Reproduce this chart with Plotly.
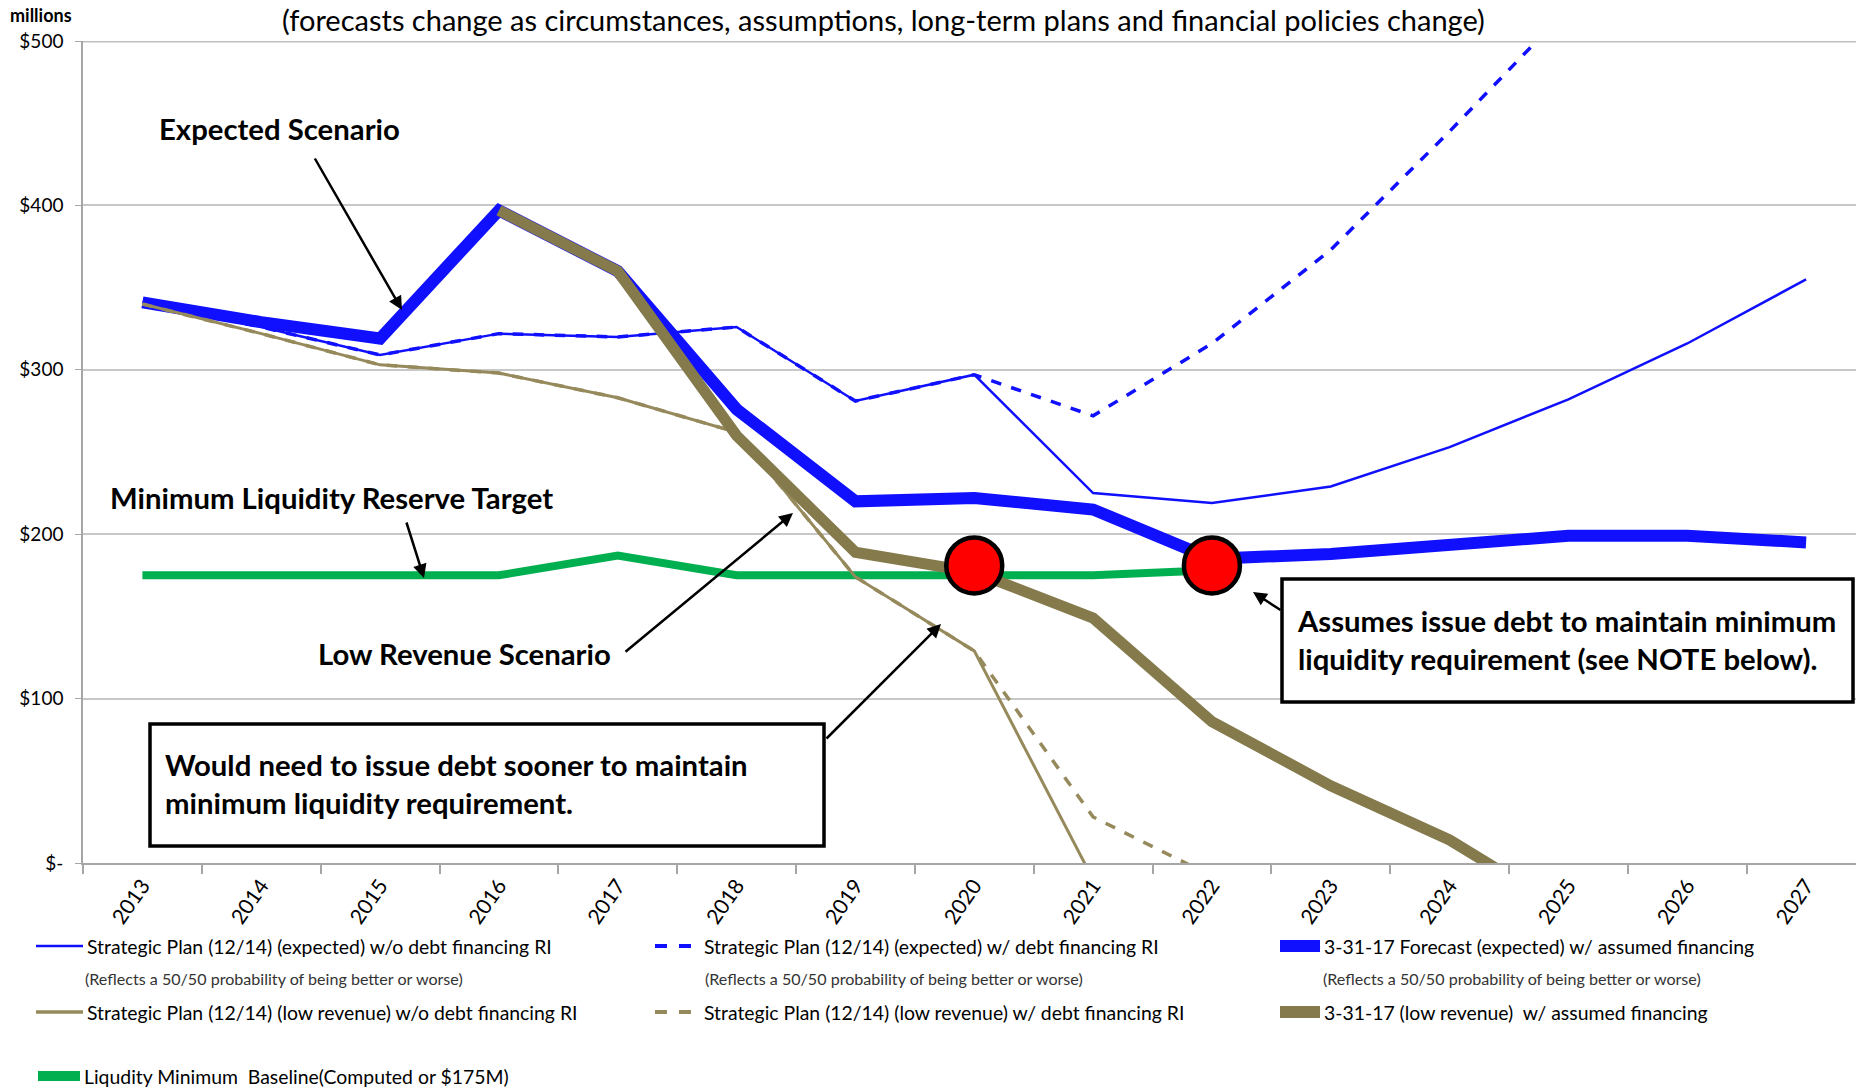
import plotly.graph_objects as go

# ---------------- data ----------------
years = ["2013", "2014", "2015", "2016", "2017", "2018", "2019", "2020",
         "2021", "2022", "2023", "2024", "2025", "2026", "2027"]

sp_expected_wo_debt = [341, 326, 309, 322, 320, 326, 281, 297, 225, 219, 229, 253, 282, 316, 355]
sp_expected_w_debt = [341, 326, 309, 322, 320, 326, 281, 297, 272, 316, 373, 445, 520]
fc_expected = [341, 329, 319, 397, 360, 276, 220, 222, 215, 185, 188, 194, 199, 199, 195]
sp_low_wo_debt = [340, 322, 303, 298, 283, 262, 174, 129, -10]
sp_low_w_debt = [340, 322, 303, 298, 283, 262, 174, 129, 28, -8]
fc_low = [None, None, None, 397, 360, 260, 189, 177, 149, 86, 47, 14, -30]
liquidity_min = [175, 175, 175, 175, 187, 175, 175, 175, 175, 178]
debt_points_x = ["2020", "2022"]
debt_points_y = [181, 181]

y_tickvals = [0, 100, 200, 300, 400, 500]
y_ticktext = ["$-", "$100", "$200", "$300", "$400", "$500"]

# ---------------- layout geometry ----------------
W, H = 1856, 1089
L, R, T, B = 83, 0, 41, 226
PW, PH = W - L - R, H - T - B


def px(x):
    return (x - L) / PW


def py(y):
    return (H - B - y) / PH


BLUE = "#1010FF"
OLIVE = "#847A4C"
OLIVE_THIN = "#968A5C"
GREEN = "#00B050"
FONT = "Lato, Carlito, Calibri, sans-serif"

fig = go.Figure()

fig.add_trace(go.Scatter(x=years[:len(sp_expected_wo_debt)], y=sp_expected_wo_debt, mode="lines",
                         line=dict(color=BLUE, width=2.5)))
fig.add_trace(go.Scatter(x=years[:len(sp_expected_w_debt)], y=sp_expected_w_debt, mode="lines",
                         line=dict(color=BLUE, width=3.5, dash="dash")))
fig.add_trace(go.Scatter(x=years[:len(fc_expected)], y=fc_expected, mode="lines",
                         line=dict(color=BLUE, width=12)))
fig.add_trace(go.Scatter(x=years[:len(liquidity_min)], y=liquidity_min, mode="lines",
                         line=dict(color=GREEN, width=8)))
fig.add_trace(go.Scatter(x=years[:len(sp_low_wo_debt)], y=sp_low_wo_debt, mode="lines",
                         line=dict(color=OLIVE_THIN, width=3)))
fig.add_trace(go.Scatter(x=years[:len(sp_low_w_debt)], y=sp_low_w_debt, mode="lines",
                         line=dict(color=OLIVE_THIN, width=3.5, dash="dash")))
fig.add_trace(go.Scatter(x=years[:len(fc_low)], y=fc_low, mode="lines",
                         line=dict(color=OLIVE, width=11)))
fig.add_trace(go.Scatter(x=debt_points_x, y=debt_points_y, mode="markers",
                         marker=dict(color="#FF0000", size=56, line=dict(color="black", width=4.5))))

annotations = []
shapes = []

# title (partially visible)
annotations.append(dict(xref="paper", yref="paper", x=px(883), y=py(20), xanchor="center", yanchor="middle",
                        text="(forecasts change as circumstances, assumptions, long-term plans and financial policies change)",
                        showarrow=False, font=dict(family=FONT, size=29, color="black")))
annotations.append(dict(xref="paper", yref="paper", x=px(41), y=py(15), xanchor="center", yanchor="middle",
                        text="<b>millions</b>", showarrow=False, font=dict(family=FONT, size=18, color="black")))

# callout labels
BOLD_SIZE = 29.3
annotations.append(dict(xref="paper", yref="paper", x=px(279), y=py(128), xanchor="center", yanchor="middle",
                        text="<b>Expected Scenario</b>", showarrow=False,
                        font=dict(family=FONT, size=BOLD_SIZE, color="black")))
annotations.append(dict(xref="paper", yref="paper", x=px(331), y=py(497), xanchor="center", yanchor="middle",
                        text="<b>Minimum Liquidity Reserve Target</b>", showarrow=False,
                        font=dict(family=FONT, size=BOLD_SIZE, color="black")))
annotations.append(dict(xref="paper", yref="paper", x=px(464), y=py(653), xanchor="center", yanchor="middle",
                        text="<b>Low Revenue Scenario</b>", showarrow=False,
                        font=dict(family=FONT, size=BOLD_SIZE, color="black")))

# boxes
shapes.append(dict(type="rect", xref="paper", yref="paper", x0=px(150), x1=px(824), y0=py(724), y1=py(846),
                   line=dict(color="black", width=3.5), fillcolor="white", layer="above"))
shapes.append(dict(type="rect", xref="paper", yref="paper", x0=px(1282), x1=px(1853), y0=py(579), y1=py(702),
                   line=dict(color="black", width=3.5), fillcolor="white", layer="above"))
annotations.append(dict(xref="paper", yref="paper", x=px(163), y=py(783), xanchor="left", yanchor="middle", align="left",
                        text="<b>Would need to issue debt sooner to maintain<br>minimum liquidity requirement.</b>",
                        showarrow=False, font=dict(family=FONT, size=BOLD_SIZE, color="black")))
annotations.append(dict(xref="paper", yref="paper", x=px(1295), y=py(639), xanchor="left", yanchor="middle", align="left",
                        text="<b>Assumes issue debt to maintain minimum<br>liquidity requirement (see NOTE below).</b>",
                        showarrow=False, font=dict(family=FONT, size=BOLD_SIZE, color="black")))

# arrows (head position, tail position) in pixels
arrows = [((402, 310), (314, 157)),
          ((424, 578), (406, 521)),
          ((793, 513), (624, 653)),
          ((941, 624), (825, 740)),
          ((1253, 592), (1282, 611))]
for (hx, hy), (tx, ty) in arrows:
    annotations.append(dict(xref="paper", yref="paper", x=px(hx), y=py(hy), ax=tx - hx, ay=ty - hy,
                            text="", showarrow=True, arrowhead=2, arrowsize=1.1, arrowwidth=2.5,
                            arrowcolor="black"))

# custom legend
leg_font = dict(family=FONT, size=19.4, color="black")
sub_font = dict(family=FONT, size=16.1, color="#333333")
legend_items = [
    (36, 83, 946, BLUE, 2.5, "solid", "Strategic Plan (12/14) (expected) w/o debt financing RI"),
    (36, 83, 1012, OLIVE_THIN, 3.5, "solid", "Strategic Plan (12/14) (low revenue) w/o debt financing RI"),
    (38, 80, 1076, GREEN, 10, "solid", "Liqudity Minimum  Baseline(Computed or $175M)"),
    (655, 700, 946, BLUE, 4, "dash", "Strategic Plan (12/14) (expected) w/ debt financing RI"),
    (655, 700, 1012, OLIVE_THIN, 4, "dash", "Strategic Plan (12/14) (low revenue) w/ debt financing RI"),
    (1280, 1320, 946, BLUE, 12, "solid", "3-31-17 Forecast (expected) w/ assumed financing"),
    (1280, 1320, 1012, OLIVE, 12, "solid", "3-31-17 (low revenue)  w/ assumed financing"),
]
for x0, x1, yy, col, wd, dash, label in legend_items:
    shapes.append(dict(type="line", xref="paper", yref="paper", x0=px(x0), x1=px(x1), y0=py(yy), y1=py(yy),
                       line=dict(color=col, width=wd, dash=dash)))
    annotations.append(dict(xref="paper", yref="paper", x=px(x1 + 2), y=py(yy), xanchor="left", yanchor="middle",
                            text=label, showarrow=False, font=leg_font))
for sx in (83, 703, 1321):
    annotations.append(dict(xref="paper", yref="paper", x=px(sx), y=py(978), xanchor="left", yanchor="middle",
                            text="(Reflects a 50/50 probability of being better or worse)", showarrow=False,
                            font=sub_font))

# heavier top border line at $500
shapes.append(dict(type="line", xref="paper", yref="y", x0=0, x1=1, y0=500, y1=500,
                   line=dict(color="#BFBFBF", width=3), layer="below"))

fig.update_layout(
    width=W, height=H,
    margin=dict(l=L, r=R, t=T, b=B, autoexpand=False),
    paper_bgcolor="white", plot_bgcolor="white",
    showlegend=False,
    annotations=annotations, shapes=shapes,
    font=dict(family=FONT, color="black"),
)
fig.update_xaxes(type="category", categoryorder="array", categoryarray=years,
                 range=[-0.5, 14.42], tickson="boundaries", ticks="outside", ticklen=9, tickwidth=1.5,
                 tickcolor="#A6A6A6", showline=True, linecolor="#A6A6A6", linewidth=2,
                 showgrid=False, tickangle=-55, tickfont=dict(family=FONT, size=21, color="black"),
                 automargin=False, zeroline=False)
fig.update_yaxes(range=[0, 500], tickvals=y_tickvals, ticktext=y_ticktext, ticks="outside", ticklen=6,
                 tickcolor="#A6A6A6", showline=True, linecolor="#A6A6A6", linewidth=1.5,
                 showgrid=True, gridcolor="#C8C8C8", gridwidth=2, zeroline=False, ticklabelstandoff=8,
                 tickfont=dict(family=FONT, size=19, color="black"), automargin=False)

fig.write_html("out.html", config={"displayModeBar": False},
               post_script="document.body.style.margin='0px';document.documentElement.style.overflow='hidden';")
